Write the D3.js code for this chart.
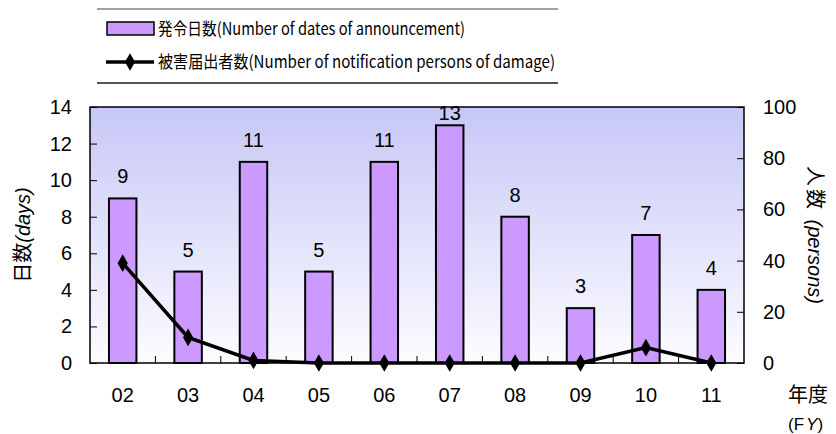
<!DOCTYPE html>
<html><head><meta charset="utf-8">
<script src="https://cdn.jsdelivr.net/npm/d3@7"></script>
<style>body{margin:0;background:#fff}svg{display:block}</style>
</head><body>
<script>
const categories = ["02","03","04","05","06","07","08","09","10","11"];
const days = [9,5,11,5,11,13,8,3,7,4];
const persons = [39,10,1,0,0,0,0,0,6,0];
const leftTicks = [0,2,4,6,8,10,12,14];
const rightTicks = [0,20,40,60,80,100];
const legTexts = ["発令日数(Number of dates of announcement)","被害届出者数(Number of notification persons of damage)"];

const W=836,H=434;
const m={l:90,r:744,t:107,b:363};
const svg=d3.select("body").append("svg").attr("width",W).attr("height",H);
const font="'Liberation Sans', Arial, 'Noto Sans CJK JP', sans-serif";
const jfont="'Noto Sans CJK JP', sans-serif";

const defs=svg.append("defs");
const g=defs.append("linearGradient").attr("id","bg").attr("x1",0).attr("x2",0).attr("y1",0).attr("y2",1);
g.append("stop").attr("offset","0%").attr("stop-color","#c7c7f7");
g.append("stop").attr("offset","100%").attr("stop-color","#fcfcff");

const x=d3.scaleBand().domain(categories).range([m.l,m.r]).paddingInner(0);
const yL=d3.scaleLinear().domain([0,14]).range([m.b,m.t]);
const yR=d3.scaleLinear().domain([0,100]).range([m.b,m.t]);

svg.append("rect").attr("x",m.l).attr("y",m.t).attr("width",m.r-m.l).attr("height",m.b-m.t).attr("fill","url(#bg)");

// bars
const bw=x.bandwidth()*0.42;
svg.selectAll("rect.bar").data(days).join("rect").attr("class","bar")
 .attr("x",(d,i)=>x(categories[i])+x.bandwidth()/2-bw/2)
 .attr("y",d=>yL(d)).attr("width",bw).attr("height",d=>yL(0)-yL(d))
 .attr("fill","#cc99ff").attr("stroke","#000").attr("stroke-width",2);

// bar labels
svg.selectAll("text.bl").data(days).join("text").attr("class","bl")
 .attr("x",(d,i)=>x(categories[i])+x.bandwidth()/2)
 .attr("y",d=>Math.max(yL(d)-22,113)).attr("dy","0.35em")
 .attr("text-anchor","middle").attr("font-family",font).attr("font-size",20).text(d=>d);

// axes ticks inside
const axL=d3.axisRight(yL).tickValues(leftTicks).tickSize(7).tickFormat("");
svg.append("g").attr("transform",`translate(${m.l},0)`).call(axL).call(s=>s.select(".domain").remove())
 .selectAll("line").attr("stroke","#000").attr("stroke-width",1);
const axR=d3.axisLeft(yR).tickValues(rightTicks).tickSize(7).tickFormat("");
svg.append("g").attr("transform",`translate(${m.r},0)`).call(axR).call(s=>s.select(".domain").remove())
 .selectAll("line").attr("stroke","#000").attr("stroke-width",1);
// x boundary ticks
svg.selectAll("line.xt").data(categories.slice(1)).join("line").attr("class","xt")
 .attr("x1",d=>x(d)).attr("x2",d=>x(d)).attr("y1",m.b).attr("y2",m.b-7).attr("stroke","#000");

// tick labels
svg.selectAll("text.ll").data(leftTicks).join("text").attr("class","ll")
 .attr("x",72).attr("y",d=>yL(d)).attr("dy","0.35em").attr("text-anchor","end")
 .attr("font-family",font).attr("font-size",20).text(d=>d);
svg.selectAll("text.rl").data(rightTicks).join("text").attr("class","rl")
 .attr("x",763).attr("y",d=>yR(d)).attr("dy","0.35em").attr("text-anchor","start")
 .attr("font-family",font).attr("font-size",20).text(d=>d);
svg.selectAll("text.xl").data(categories).join("text").attr("class","xl")
 .attr("x",d=>x(d)+x.bandwidth()/2).attr("y",395).attr("dy","0.35em").attr("text-anchor","middle")
 .attr("font-family",font).attr("font-size",20).text(d=>d);

// plot border
svg.append("rect").attr("x",m.l).attr("y",m.t).attr("width",m.r-m.l).attr("height",m.b-m.t)
 .attr("fill","none").attr("stroke","#000").attr("stroke-width",1.5);

// line
const line=d3.line().x((d,i)=>x(categories[i])+x.bandwidth()/2).y(d=>yR(d));
svg.append("path").datum(persons).attr("d",line).attr("fill","none").attr("stroke","#000").attr("stroke-width",3.5);
const sym=d3.symbol().type(d3.symbolDiamond).size(90);
svg.selectAll("path.mk").data(persons).join("path").attr("class","mk")
 .attr("transform",(d,i)=>`translate(${x(categories[i])+x.bandwidth()/2},${yR(d)})`)
 .attr("d",sym).attr("fill","#000");

// axis titles
const lt=svg.append("text").attr("transform",`translate(23,${(m.t+m.b)/2}) rotate(-90)`)
 .attr("text-anchor","middle").attr("dy","0.35em").attr("font-size",20);
lt.append("tspan").attr("font-family",jfont).text("日数");
lt.append("tspan").attr("font-family",font).attr("font-style","italic").text("(days)");
const rt=svg.append("text").attr("transform",`translate(815,${(m.t+m.b)/2}) rotate(90)`)
 .attr("text-anchor","middle").attr("dy","0.35em").attr("font-size",20);
rt.append("tspan").attr("font-family",jfont).attr("letter-spacing",3).text("人数 ");
rt.append("tspan").attr("font-family",font).attr("font-style","italic").text("(persons)");

svg.append("text").attr("x",788).attr("y",395).attr("dy","0.35em").attr("font-family",jfont).attr("font-size",20).text("年度");
const fy=svg.append("text").attr("x",788).attr("y",424).attr("dy","0.35em").attr("font-family",font).attr("font-size",17);
fy.append("tspan").text("(F");
fy.append("tspan").attr("font-style","italic").attr("dx",2).text("Y");
fy.append("tspan").text(")");

// legend
svg.append("line").attr("x1",97).attr("x2",558).attr("y1",9).attr("y2",9).attr("stroke","#808080").attr("stroke-width",1.5);
svg.append("line").attr("x1",97).attr("x2",558).attr("y1",83).attr("y2",83).attr("stroke","#555").attr("stroke-width",2);
svg.append("rect").attr("x",107).attr("y",22).attr("width",47).attr("height",13).attr("fill","#cc99ff").attr("stroke","#000").attr("stroke-width",1.5);
svg.append("line").attr("x1",106).attr("x2",154).attr("y1",62).attr("y2",62).attr("stroke","#000").attr("stroke-width",3.5);
svg.append("path").attr("transform","translate(130,62)").attr("d",sym).attr("fill","#000");
const legW=[307,397];
svg.selectAll("text.lg").data(legTexts).join("text").attr("class","lg")
 .attr("x",158).attr("y",(d,i)=>i?62:29).attr("dy","0.35em").attr("font-family",jfont).attr("font-size",17)
 .attr("textLength",(d,i)=>legW[i]).attr("lengthAdjust","spacingAndGlyphs").text(d=>d);
</script>
</body></html>
